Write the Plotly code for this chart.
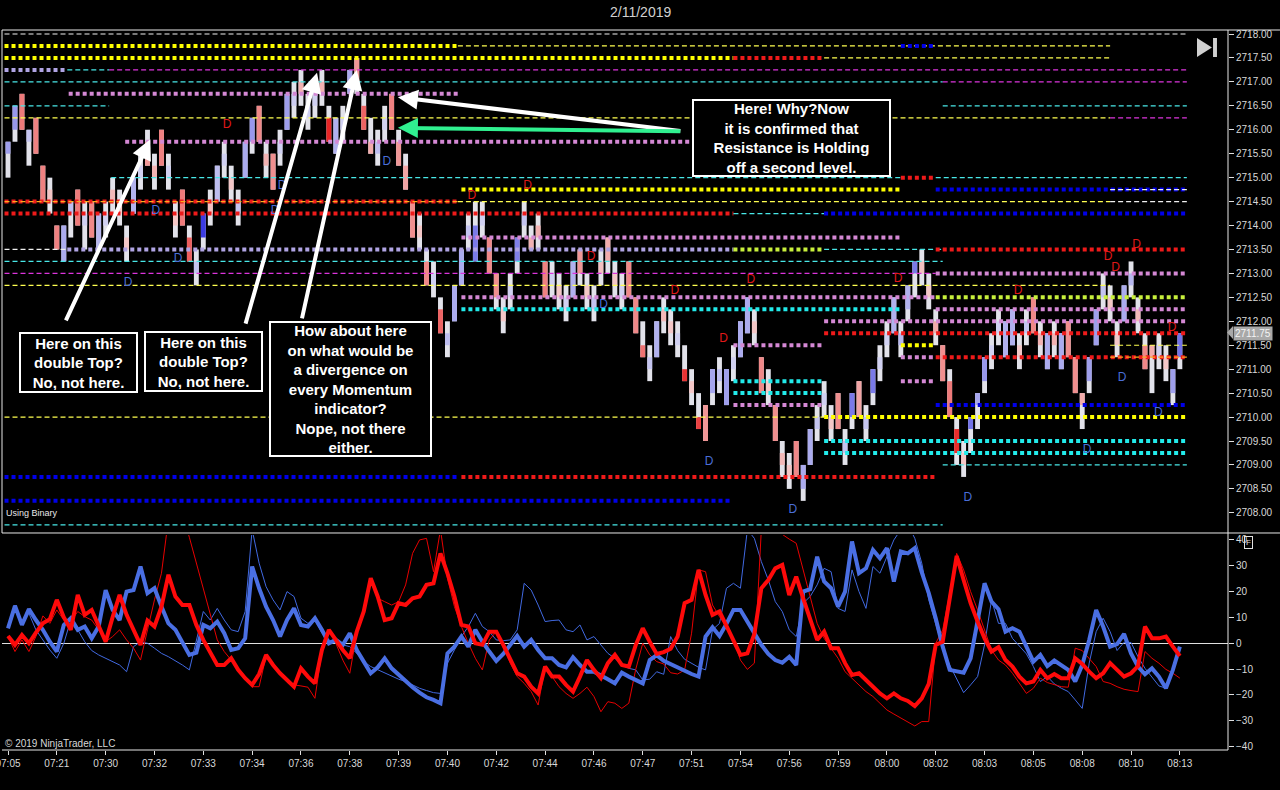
import plotly.graph_objects as go

# bar labels on the time axis (one every 7 bars)
times = ["07:05", "07:21", "07:30", "07:32", "07:33", "07:34", "07:36", "07:38", "07:39",
         "07:40", "07:42", "07:44", "07:46", "07:47", "07:51", "07:54", "07:56", "07:59",
         "08:00", "08:02", "08:03", "08:05", "08:08", "08:10", "08:13"]

opens = [2715.5, 2716.0, 2716.75, 2715.75, 2716.25, 2715.25, 2714.75, 2714.0, 2713.25, 2714.25,
         2714.75, 2714.0, 2714.5, 2713.5, 2714.0, 2714.75, 2714.5, 2713.75, 2714.25, 2715.0,
         2715.75, 2715.25, 2716.0, 2715.0, 2714.25, 2714.75, 2713.75, 2713.0, 2713.75, 2714.5,
         2714.5, 2715.25, 2715.0, 2714.25, 2715.0, 2715.75, 2716.5, 2715.5, 2715.5, 2715.5,
         2716.0, 2716.5, 2717.0, 2716.25, 2716.5, 2717.0, 2716.25, 2715.5, 2716.0, 2716.75,
         2717.5, 2716.5, 2715.75, 2715.5, 2716.0, 2716.75, 2715.75, 2715.25, 2714.5, 2714.0,
         2713.25, 2712.75, 2712.25, 2711.5, 2712.0, 2712.75, 2713.75, 2713.25, 2714.0, 2713.75,
         2713.0, 2712.25, 2712.5, 2713.25, 2714.0, 2713.75, 2714.0, 2713.25, 2712.75, 2712.75,
         2712.25, 2712.5, 2713.5, 2712.75, 2712.25, 2713.25, 2713.75, 2713.0, 2712.5, 2713.25,
         2712.5, 2711.5, 2711.0, 2711.25, 2712.25, 2712.0, 2711.5, 2711.0, 2710.75, 2710.0,
         2710.25, 2710.5, 2710.75, 2710.25, 2711.0, 2711.25, 2711.75, 2712.0, 2711.25, 2710.75,
         2710.25, 2709.25, 2709.0, 2709.5, 2708.5, 2709.0, 2709.75, 2710.25, 2710.0, 2710.5,
         2709.25, 2710.0, 2710.75, 2709.75, 2710.5, 2711.0, 2711.5, 2711.75, 2711.5, 2712.25,
         2713.0, 2713.25, 2712.75, 2712.0, 2711.5, 2710.75, 2709.75, 2709.25, 2709.75, 2710.25,
         2710.75, 2711.25, 2711.75, 2711.25, 2711.5, 2711.5, 2711.75, 2712.5, 2711.75, 2711.0,
         2711.75, 2711.0, 2712.0, 2711.25, 2710.5, 2710.75, 2711.5, 2712.5, 2712.5, 2711.75,
         2712.0, 2712.75, 2712.25, 2711.5, 2711.5, 2711.25, 2711.25, 2710.5, 2711.25]
highs = [2715.75, 2716.5, 2716.75, 2716.0, 2716.25, 2715.25, 2715.0, 2714.0, 2714.0, 2714.5,
         2714.75, 2714.5, 2714.5, 2714.25, 2714.5, 2715.0, 2714.75, 2714.0, 2715.0, 2715.5,
         2716.0, 2715.5, 2716.0, 2715.5, 2714.5, 2714.75, 2714.0, 2713.5, 2714.25, 2714.75,
         2715.25, 2715.75, 2715.25, 2714.75, 2715.75, 2716.25, 2716.5, 2715.75, 2715.5, 2716.0,
         2716.75, 2717.0, 2717.25, 2716.75, 2717.0, 2717.25, 2716.5, 2716.25, 2716.5, 2717.25,
         2717.5, 2716.75, 2716.25, 2716.0, 2716.5, 2716.75, 2716.0, 2715.5, 2714.5, 2714.25,
         2713.5, 2713.25, 2712.5, 2712.0, 2712.75, 2713.5, 2714.25, 2714.5, 2714.5, 2713.75,
         2713.0, 2712.5, 2713.0, 2713.75, 2714.5, 2714.0, 2714.25, 2713.25, 2713.25, 2713.0,
         2712.75, 2713.25, 2713.5, 2713.0, 2712.75, 2713.5, 2713.75, 2713.25, 2713.0, 2713.25,
         2712.5, 2712.0, 2711.5, 2712.0, 2712.5, 2712.25, 2712.0, 2711.5, 2711.0, 2710.5,
         2710.25, 2711.0, 2711.25, 2711.0, 2711.5, 2712.0, 2712.5, 2712.25, 2711.25, 2711.0,
         2710.25, 2709.5, 2709.25, 2709.5, 2709.0, 2709.75, 2710.25, 2710.75, 2710.25, 2710.5,
         2709.75, 2710.5, 2710.75, 2710.25, 2711.0, 2711.5, 2712.0, 2712.5, 2712.0, 2712.75,
         2713.25, 2713.5, 2713.0, 2712.25, 2711.5, 2711.0, 2710.0, 2709.5, 2710.0, 2710.5,
         2711.25, 2711.75, 2712.25, 2712.0, 2712.25, 2711.75, 2712.25, 2712.5, 2712.0, 2711.75,
         2712.0, 2711.75, 2712.0, 2711.25, 2710.5, 2711.25, 2712.25, 2713.0, 2712.75, 2712.0,
         2712.75, 2713.25, 2712.5, 2711.75, 2711.5, 2711.75, 2711.5, 2711.0, 2711.75]
lows = [2715.0, 2715.75, 2716.0, 2715.25, 2715.5, 2714.5, 2714.25, 2713.5, 2713.25, 2713.75,
        2714.0, 2713.5, 2713.75, 2713.5, 2713.75, 2714.25, 2714.0, 2713.25, 2714.25, 2714.75,
        2715.25, 2714.75, 2715.25, 2714.75, 2713.75, 2714.0, 2713.25, 2712.75, 2713.5, 2714.0,
        2714.5, 2715.0, 2714.5, 2714.0, 2715.0, 2715.5, 2715.75, 2715.0, 2714.75, 2715.25,
        2716.0, 2716.25, 2716.5, 2716.0, 2716.25, 2716.5, 2715.75, 2715.5, 2715.75, 2716.75,
        2716.75, 2716.0, 2715.5, 2715.25, 2715.75, 2716.0, 2715.25, 2714.75, 2713.75, 2713.5,
        2712.75, 2712.5, 2711.75, 2711.25, 2712.0, 2712.75, 2713.5, 2713.25, 2713.75, 2713.0,
        2712.25, 2711.75, 2712.25, 2713.0, 2713.75, 2713.5, 2713.5, 2712.5, 2712.5, 2712.25,
        2712.0, 2712.5, 2712.75, 2712.25, 2712.0, 2712.75, 2713.0, 2712.5, 2712.25, 2712.5,
        2711.75, 2711.25, 2710.75, 2711.25, 2711.75, 2711.5, 2711.25, 2710.75, 2710.25, 2709.75,
        2709.5, 2710.25, 2710.5, 2710.25, 2710.75, 2711.25, 2711.75, 2711.5, 2710.5, 2710.25,
        2709.5, 2708.75, 2708.5, 2708.75, 2708.25, 2709.0, 2709.5, 2710.0, 2709.5, 2709.75,
        2709.0, 2709.75, 2710.0, 2709.5, 2710.25, 2710.75, 2711.25, 2711.75, 2711.25, 2712.0,
        2712.5, 2712.75, 2712.25, 2711.5, 2710.75, 2710.0, 2709.0, 2708.75, 2709.25, 2709.75,
        2710.5, 2711.0, 2711.5, 2711.25, 2711.5, 2711.0, 2711.5, 2711.75, 2711.25, 2711.0,
        2711.25, 2711.0, 2711.25, 2710.5, 2709.75, 2710.5, 2711.5, 2712.25, 2712.0, 2711.25,
        2712.0, 2712.5, 2711.75, 2711.0, 2710.5, 2711.0, 2710.75, 2710.25, 2711.0]
closes = [2715.75, 2716.5, 2716.0, 2716.0, 2715.5, 2714.5, 2714.5, 2713.5, 2714.0, 2714.5,
          2714.0, 2714.25, 2713.75, 2714.25, 2714.25, 2714.5, 2714.25, 2713.5, 2715.0, 2715.25,
          2715.25, 2715.0, 2715.25, 2715.25, 2714.0, 2714.0, 2713.25, 2713.25, 2714.25, 2714.25,
          2715.25, 2715.5, 2714.75, 2714.5, 2715.75, 2716.25, 2715.75, 2715.25, 2714.75, 2715.75,
          2716.75, 2716.75, 2716.75, 2716.5, 2716.75, 2716.75, 2715.75, 2716.25, 2716.25, 2717.25,
          2717.0, 2716.0, 2715.5, 2715.75, 2716.25, 2716.0, 2715.25, 2714.75, 2713.75, 2713.75,
          2712.75, 2713.0, 2711.75, 2711.75, 2712.75, 2713.5, 2714.0, 2714.0, 2714.25, 2713.0,
          2712.5, 2712.0, 2712.75, 2713.75, 2714.25, 2713.5, 2713.75, 2712.5, 2713.0, 2712.5,
          2712.5, 2713.25, 2713.0, 2712.5, 2712.5, 2713.0, 2713.25, 2712.75, 2712.75, 2712.5,
          2711.75, 2711.25, 2711.25, 2712.0, 2712.0, 2711.75, 2711.75, 2710.75, 2710.5, 2709.75,
          2709.5, 2711.0, 2711.0, 2711.0, 2711.25, 2712.0, 2712.5, 2711.75, 2710.5, 2710.5,
          2709.5, 2709.0, 2708.75, 2708.75, 2709.0, 2709.75, 2710.0, 2710.5, 2709.75, 2709.75,
          2709.5, 2710.5, 2710.0, 2710.0, 2711.0, 2711.25, 2711.75, 2712.5, 2711.75, 2712.75,
          2713.25, 2713.0, 2712.5, 2711.75, 2710.75, 2710.0, 2709.25, 2709.0, 2710.0, 2710.5,
          2711.25, 2711.5, 2712.0, 2712.0, 2712.25, 2711.25, 2712.0, 2711.75, 2711.5, 2711.75,
          2711.5, 2711.75, 2711.25, 2710.5, 2710.25, 2711.25, 2712.25, 2712.75, 2712.25, 2711.5,
          2712.75, 2713.0, 2712.0, 2711.0, 2711.25, 2711.5, 2711.0, 2711.0, 2711.75]
# order flow delta per bar, drives the body shade
deltas = [90, 100, -120, 30, -110, -110, -15, -110, 70, 40,
          -120, 10, -100, 50, 10, -30, -10, -10, 60, 10,
          -80, -40, -110, 10, -10, -120, -160, 30, 250, -20,
          40, 10, -10, 30, 70, 100, -100, -40, -90, 10,
          90, 15, -40, 10, 10, -40, -240, 60, 10, 70,
          -80, -150, -50, 40, 10, -110, -80, -60, -90, -10,
          -100, 10, -150, 40, 70, 70, 30, 150, 10, -100,
          -90, -10, 10, 140, 30, -40, -40, -110, 10, -10,
          10, 60, -80, -10, 30, -20, -50, -10, 10, -100,
          -100, -130, 30, 60, -30, -10, 10, -220, -10, -200,
          -80, 80, 40, 90, 10, 70, 70, -10, -100, -10,
          -90, -30, -10, -100, 70, 70, 30, 10, -10, -90,
          30, 150, -60, 30, 150, 10, 10, 60, 50, 60,
          150, -20, -10, -50, -90, -120, -230, -10, 160, 80,
          100, 10, 10, 60, 60, -10, 30, -100, -40, 70,
          -40, 70, -90, -90, -50, 90, 90, 30, -10, -10,
          70, 50, -30, -100, -50, 10, -10, 90, 160]

# horizontal levels: price, first bar, last bar, kind
level_price = [2718.00, 2717.75, 2717.75, 2717.75, 2717.50, 2717.50, 2717.50, 2717.25, 2717.25, 2717.25,
               2717.00, 2717.00, 2716.75, 2716.50, 2716.50, 2716.25, 2716.25, 2715.75, 2715.00, 2715.00,
               2715.00, 2714.75, 2714.75, 2714.75, 2714.50, 2714.50, 2714.50, 2714.50, 2714.25, 2714.25,
               2714.25, 2713.75, 2713.50, 2713.50, 2713.50, 2713.50, 2713.50, 2713.25, 2713.00, 2713.00,
               2712.75, 2712.50, 2712.50, 2712.25, 2712.25, 2712.00, 2711.75, 2711.50, 2711.50, 2711.50,
               2711.25, 2711.25, 2711.25, 2710.75, 2710.75, 2710.50, 2710.25, 2710.25, 2710.00, 2710.00,
               2709.50, 2709.25, 2709.00, 2708.75, 2708.75, 2708.25, 2707.75]
level_from = [-0.5, -0.5, 64.5, 128, -0.5, 104, 117, -0.5, 8.5, 14.5,
              -0.5, 134, 8.7, -0.5, 134, -0.5, 158, 16.8, 14.8, 128,
              133, 65, 133, 158, -0.5, -0.5, 64.5, 158, -0.5, 104,
              117, 65, -0.5, 8.5, 104, 117, 133, -0.5, -0.5, 133,
              -0.5, 65, 133, 65, 133, 117, 117, 104, 128, 158,
              128, 133, 158, 104, 128, 104, 104, 133, -0.5, 117,
              117, 117, 134, -0.5, 65, -0.5, -0.5]
level_to = [169, 64.5, 158, 133, 104, 117, 158, 8.5, 14.5, 169,
            134, 169, 64.5, 14.5, 169, 158, 169, 103.5, 128, 133,
            169, 128, 169, 169, 64.5, 64.5, 158, 169, 104, 117,
            169, 128, 8.5, 104, 117, 134, 169, 134, 133, 169,
            158, 133, 169, 128, 169, 169, 169, 117, 133, 169,
            133, 169, 169, 117, 133, 117, 117, 169, 117, 169,
            169, 169, 169, 64.5, 133, 103.5, 134]
level_kind = ["thin_white", "thick_yellow", "thin_yellow", "thick_blue", "thick_yellow", "thick_red",
              "thin_yellow", "thick_lavender", "thin_cyan", "thin_magenta",
              "thin_cyan", "thin_magenta", "thick_orchid", "thin_cyan", "thin_cyan", "thin_yellow",
              "thin_magenta", "thick_orchid", "thin_cyan", "thick_red",
              "thin_cyan", "thick_yellow", "thick_blue", "thin_white", "thick_red", "thin_orange",
              "thin_yellow", "thin_white", "thick_red", "thin_cyan",
              "thick_blue", "thick_orchid", "thin_white", "thick_lavender", "thick_lime", "thin_cyan",
              "thick_red", "thin_cyan", "thin_magenta", "thick_orchid",
              "thin_yellow", "thick_orchid", "thick_lime", "thick_cyan", "thick_orchid", "thick_orchid",
              "thick_red", "thick_orchid", "thick_yellow", "thin_yellow",
              "thick_orchid", "thick_red", "thin_orange", "thick_cyan", "thick_orchid", "thick_cyan",
              "thick_orchid", "thick_blue", "thin_yellow", "thick_yellow",
              "thick_cyan", "thick_cyan", "thin_cyan", "thick_blue", "thick_red", "thick_blue", "thin_cyan"]

# divergence signals
red_d_bar = [31.4, 66.5, 74.5, 83.6, 95.6, 102.6, 106.5, 127.6, 144.8, 157.7, 158.8, 161.8, 166.9]
red_d_price = [2716.10, 2714.62, 2714.83, 2713.34, 2712.63, 2711.63, 2712.86, 2712.89, 2712.63,
               2713.34, 2713.11, 2713.59, 2711.86]
blue_d_bar = [54.3, 21.2, 39.3, 38.3, 24.4, 17.2, 85.4, 100.5, 112.5, 137.6, 154.7, 159.7, 164.9]
blue_d_price = [2715.33, 2714.30, 2714.83, 2714.30, 2713.30, 2712.80, 2712.34, 2709.06, 2708.06,
                2708.31, 2709.32, 2710.82, 2710.09]

# oscillator panel
blue_slow = [5.8, 14.5, 7.1, 13.2, 9.0, 5.2, 0.6, -3.2, 7.1, 9.7,
             5.2, 6.5, 1.9, 6.5, 20.6, 12.9, 9.0, 20.0, 20.6, 29.7,
             19.4, 21.3, 14.2, 7.7, 5.2, 0, -4.5, -3.6, 7.1, 5.8,
             8.4, 3.9, -2.6, -1.9, 1.9, 29.7, 21.3, 14.2, 9.0, 2.6,
             9.0, 13.5, 7.1, 6.5, 9.7, 5.2, 0, 1.3, -0.6, 3.9,
             -2.6, -7.1, -11.6, -9.3, -5.8, -9.7, -12.3, -14.8, -17.0, -19.1,
             -20.9, -21.9, -23.2, -3.9, -1.3, 2.6, -1.3, 5.2, 0.6, -3.2,
             -6.8, -4.1, -0.6, 2.8, -1.3, 1.3, -2.6, -5.8, -5.8, -8.4,
             -9.3, -5.4, -8.4, -11.0, -11.0, -12.3, -13.9, -15.5, -11.4, -12.9, -14.2,
             -15.5, -6.5, -4.6, -6.8, -8.1, -9.7, -11.0, -11.9, -12.9, 2.6,
             6.2, 2.8, 7.5, 12.9, 12.9, 8.4, 3.6, -0.6, -4.1, -6.5,
             -7.5, -5.2, -8.4, 20.0, 20.9, 33.5, 23.9, 21.3, 14.2, 20.0,
             39.4, 27.1, 29.0, 36.1, 32.9, 36.8, 23.9, 35.5, 34.8, 36.8,
             27.4, 19.4, 9.7, -1.3, -10.3, -10.8, -11.4, -5.8, 9.7, 23.2,
             16.1, 13.2, 4.5, 5.8, 4.5, -1.3, -7.1, -4.5, -8.8, -6.7,
             -8.4, -10.3, -14.8, -8.4, 1.3, 12.9, 6.5, -1.3, -0.3, 3.6,
             -3.9, -9.0, -12.0, -9.7, -12.9, -17.4, -10.3, -1.3]
red_slow = [2.8, -0.6, 3.2, 0, 4.1, 7.7, 9.3, 16.8, 10.1, 5.2,
            18.7, 11.0, 12.9, 7.1, 0.6, 10.1, 18.7, 11.0, 5.2, -0.6,
            8.8, 6.5, 14.2, 26.5, 18.1, 14.8, 14.8, 7.1, 1.3, -3.9,
            -8.4, -8.4, -5.8, -10.3, -13.5, -16.1, -11.9, -4.5, -8.4, -11.6,
            -14.2, -16.8, -9.7, -12.9, -15.5, -2.6, 5.2, 1.3, -2.6, -5.8,
            4.5, 12.3, 25.2, 18.1, 9.0, 9.7, 15.5, 14.8, 17.4, 18.1,
            22.6, 23.2, 34.8, 27.1, 18.1, 7.1, 6.5, 0, -0.6, 4.5,
            4.5, -0.6, -6.5, -11.6, -12.9, -16.8, -19.4, -9.0, -12.9, -12.9,
            -16.1, -18.7, -12.9, -6.5, -10.3, -13.5, -7.7, -4.5, -8.4, -9.0, -0.6,
            5.8, 0.6, -4.1, -3.4, -2.1, 2.6, 15.5, 16.8, 28.4, 18.7,
            11.0, 12.3, 6.5, 0.6, -4.5, -3.9, 3.6, 21.3, 24.5, 29.0,
            30.3, 18.7, 25.8, 17.4, 9.7, 1.3, 4.5, -1.9, -1.9, -7.7,
            -12.3, -11.6, -14.2, -16.8, -19.4, -21.3, -19.4, -21.3, -22.3, -24.3,
            -21.3, -15.7, -0.6, 0.6, 16.8, 33.8, 24.5, 15.5, 8.4, 1.9,
            -3.2, -1.5, -6.5, -9.0, -12.9, -15.5, -14.8, -10.3, -13.5, -11.9,
            -13.5, -13.5, -5.8, -8.0, -11.0, -13.5, -11.6, -7.7, -10.3, -12.9,
            -11.6, -8.8, 6.5, 1.9, 1.9, 2.6, -1.3, -4.9]
blue_fast = [6.5, 14.8, 8.4, 11.6, 5.2, 1.3, -2.6, -5.8, 0, 9.0,
             5.2, 0.6, -2.8, -4.5, -5.8, -7.1, -8.4, -11.0, -1.3, 0.6,
             0, -1.9, -3.9, -5.2, -6.7, -8.4, -10.3, 1.3, 12.3, 9.0,
             13.5, 9.0, 5.2, 4.5, 12.3, 44, 31.0, 21.9, 16.8, 12.9,
             20.0, 18.1, 9.7, 7.7, 9.0, 3.9, 1.3, 0, -0.6, -1.3,
             -3.9, -7.1, -9.0, -10.3, -11.6, -12.9, -13.9, -14.8, -16.1, -17.4,
             -18.3, -19.1, -19.4, -7.7, -2.6, 2.6, 6.5, 11.6, 6.5, 4.5,
             1.3, 1.0, 1.3, 5.2, 23.2, 20.6, 14.8, 8.4, 8.8, 9.0,
             5.2, 4.5, 7.1, 1.3, 2.6, -0.6, -3.9, -5.8, -8.4, -9.7, -10.3,
             -14.2, -13.9, -11.0, -12.0, 2.6, -2.8, -6.2, -7.7, -9.3, -10.3,
             5.2, 7.7, 21.3, 23.2, 21.3, 44, 40.6, 31.6, 24.5, 16.1,
             12.3, 5.2, 2.6, 15.5, 18.1, 22.6, 29.0, 27.7, 13.5, 12.3,
             28.4, 20.0, 13.5, 29.7, 27.1, 33.5, 40.0, 44, 46, 40.6,
             31.0, 16.8, 7.7, -1.9, -8.4, -13.5, -19.1, -16.1, -12.9, -0.6,
             16.8, 7.7, 7.7, 1.9, -1.3, -4.1, -9.0, -14.8, -12.9, -15.7,
             -17.4, -18.7, -21.9, -25.2, -7.7, 4.5, 9.7, 4.5, -2.8, 0.4,
             0.3, -5.2, -9.7, -12.9, -16.5, -17.4, -10.3, -2.6]
red_fast = [2.6, -3.2, 1.3, -3.2, 2.6, 10.6, 7.7, 12.9, 9.0, 8.4,
            12.3, 10.3, 9.0, 5.2, 0.6, 2.6, 5.2, 1.3, -1.9, -6.5,
            5.2, 16.8, 27.1, 48, 55, 50, 41, 31.0, 20.6, 11.0,
            1.3, -3.2, -6.5, -10.3, -13.5, -16.8, -16.8, -4.9, -7.7, -11.6,
            -14.2, -16.1, -16.5, -17.0, -21.3, -3.2, 5.2, 0, -6.5, -11.6,
            3.9, 12.9, 24.5, 17.4, 16.1, 14.8, 16.1, 22.6, 34.8, 40.0,
            40.6, 27.7, 44, 25.2, 14.2, 6.5, 0, -5.8, -10.3, 1.3,
            4.5, -1.9, -7.7, -12.9, -15.5, -18.7, -23.9, -9.0, -12.9, -16.8,
            -19.4, -21.3, -19.4, -17.0, -20.6, -26.5, -22.6, -23.2, -25.2, -23.2, -10.0,
            0, -4.5, -7.1, -8.0, -11.4, -11.9, -10.3, 3.9, 28.4, 27.7,
            14.8, 10.3, 6.5, 1.9, -6.5, -10.1, -7.7, 44, 45, 44,
            42, 40.3, 38.7, 28.4, 17.4, 7.7, 1.9, -1.9, -5.8, -11.0,
            -13.5, -16.1, -18.7, -20.6, -23.2, -25.8, -27.4, -29.0, -30.3, -32.0,
            -30.3, -30.3, 0, 5.2, 19.4, 34.8, 28.4, 20.0, 12.9, 5.2,
            -2.6, -6.5, -8.4, -11.6, -15.5, -19.4, -17.4, -13.5, -15.2, -16.1,
            -16.8, -17.0, -1.9, -2.8, -5.8, -9.0, -14.8, -15.5, -16.8, -17.8,
            -18.3, -18.7, -3.2, -5.8, -7.7, -10.1, -11.6, -13.5]

LEVEL_STYLE = {
    "thin_white": ("#f0f0f0", 1.2, "5px,3px"),
    "thin_yellow": ("#ffff50", 1.2, "5px,3px"),
    "thin_cyan": ("#48e8e8", 1.2, "5px,3px"),
    "thin_magenta": ("#dc34dc", 1.2, "5px,3px"),
    "thin_orange": ("#ffa820", 1.2, "5px,3px"),
    "thick_yellow": ("#ffff00", 4, "4px,3px"),
    "thick_orchid": ("#d488d4", 4, "4px,3px"),
    "thick_lavender": ("#b0a4e4", 4, "4px,3px"),
    "thick_red": ("#ee1a1a", 4, "4px,3px"),
    "thick_blue": ("#0000e8", 4, "4px,3px"),
    "thick_cyan": ("#22eaea", 4, "4px,3px"),
    "thick_lime": ("#c8f03c", 4, "4px,3px"),
}


def body_color(d):
    t = min(abs(d) / 250.0, 1.0)
    if d >= 0:
        lo, hi = (214, 214, 242), (60, 60, 226)
    else:
        lo, hi = (244, 206, 206), (232, 30, 30)
    r, g, b = [round(lo[k] + (hi[k] - lo[k]) * t) for k in range(3)]
    return 'rgb(%d,%d,%d)' % (r, g, b)


bars = list(range(len(opens)))
fig = go.Figure()

# candles: full range in pale grey, body shaded by delta
fig.add_trace(go.Bar(x=bars, base=lows, y=[h - l for h, l in zip(highs, lows)], width=0.7,
                     marker=dict(color='rgb(226,226,234)', line=dict(width=0)), hoverinfo='skip'))
fig.add_trace(go.Bar(x=bars, base=[min(o, c) for o, c in zip(opens, closes)],
                     y=[abs(c - o) for o, c in zip(opens, closes)], width=0.7,
                     marker=dict(color=[body_color(d) for d in deltas], line=dict(width=0)),
                     hoverinfo='skip'))

for p, a, b, k in zip(level_price, level_from, level_to, level_kind):
    color, w, dash = LEVEL_STYLE[k]
    fig.add_trace(go.Scatter(x=[a, b], y=[p, p], mode='lines', hoverinfo='skip',
                             line=dict(color=color, width=w, dash=dash)))

fig.add_trace(go.Scatter(x=red_d_bar, y=red_d_price, mode='text', text=['D'] * len(red_d_bar),
                         textfont=dict(color='#e01818', size=12, family='Liberation Sans, Arial'),
                         hoverinfo='skip'))
fig.add_trace(go.Scatter(x=blue_d_bar, y=blue_d_price, mode='text', text=['D'] * len(blue_d_bar),
                         textfont=dict(color='#4a6ed8', size=12, family='Liberation Sans, Arial'),
                         hoverinfo='skip'))

# oscillators
fig.add_trace(go.Scatter(x=bars, y=blue_fast, yaxis='y2', mode='lines',
                         line=dict(color='#4169e1', width=1), hoverinfo='skip'))
fig.add_trace(go.Scatter(x=bars, y=red_fast, yaxis='y2', mode='lines',
                         line=dict(color='#e80000', width=1), hoverinfo='skip'))
fig.add_trace(go.Scatter(x=bars, y=blue_slow, yaxis='y2', mode='lines',
                         line=dict(color='#4a6fe3', width=4), hoverinfo='skip'))
fig.add_trace(go.Scatter(x=bars, y=red_slow, yaxis='y2', mode='lines',
                         line=dict(color='#ff0a0a', width=4), hoverinfo='skip'))

box_font = dict(family='Liberation Sans, Arial', size=15, color='white')
boxes = [
    (10.1, 2711.14, "Here on this<br>double Top?<br>No, not here.", 113, 55),
    (28.0, 2711.17, "Here on this<br>double Top?<br>No, not here.", 113, 55),
    (49.1, 2710.59, "How about here<br>on what would be<br>a divergence on<br>every Momentum"
                    "<br>indicator?<br>Nope, not there<br>either.", 157, 130),
    (112.3, 2715.83, "Here! Why?Now<br>it is confirmed that<br>Resistance is Holding"
                     "<br>off a second level.", 193, 72),
]
annotations = []
for bx, by, txt, w, h in boxes:
    annotations.append(dict(x=bx, y=by, xref='x', yref='y', text='<b>' + txt + '</b>',
                            showarrow=False, font=box_font, align='center', width=w, height=h,
                            bordercolor='white', borderwidth=2, borderpad=1, bgcolor='black'))

arrows = [
    (20.4, 2715.80, 8.2, 2711.99, 'white'),
    (44.3, 2717.19, 34.0, 2711.92, 'white'),
    (50.0, 2717.25, 42.1, 2712.03, 'white'),
    (55.9, 2716.68, 96.6, 2715.97, 'white'),
    (55.9, 2716.04, 96.6, 2715.97, '#30f090'),
]
for hx, hy, tx, ty, col in arrows:
    annotations.append(dict(x=hx, y=hy, ax=tx, ay=ty, xref='x', yref='y', axref='x', ayref='y',
                            text='', showarrow=True, arrowhead=2, arrowsize=1, arrowwidth=4,
                            arrowcolor=col, standoff=0))

annotations += [
    dict(x=0.5204, y=1.025, xref='paper', yref='paper', text='2/11/2019', showarrow=False,
         font=dict(size=14, color='#d0d0d0'), yanchor='middle'),
    dict(x=0.0016, y=0.329, xref='paper', yref='paper', text='Using Binary', showarrow=False,
         font=dict(size=9, color='#e8e8e8'), xanchor='left', yanchor='middle'),
    dict(x=0.0008, y=0.0097, xref='paper', yref='paper', text='© 2019 NinjaTrader, LLC',
         showarrow=False, font=dict(size=10, color='#d8d8d8'), xanchor='left', yanchor='middle'),
    dict(x=1.0041, y=closes[-1], xref='paper', yref='y', text='%.2f' % closes[-1], showarrow=False,
         font=dict(size=10, color='#f4f4f4'), xanchor='left', bgcolor='#a8a8a8', borderpad=1),
    dict(x=1.0204, y=0.279, xref='paper', yref='paper', text='F', showarrow=False,
         font=dict(size=8, color='#e0e0e0'), bordercolor='#e0e0e0', borderwidth=1, borderpad=1),
]

frame = dict(color='#e8e8e8', width=1)
shapes = [
    dict(type='line', xref='paper', yref='paper', x0=0, x1=1.0424, y0=1, y1=1, line=frame),
    dict(type='line', xref='paper', yref='paper', x0=0, x1=1.0424, y0=0.3014, y1=0.3014, line=frame),
    dict(type='line', xref='paper', yref='paper', x0=0, x1=1, y0=0, y1=0, line=frame),
    dict(type='line', xref='paper', yref='paper', x0=1, x1=1, y0=0, y1=1, line=frame),
    dict(type='line', xref='paper', yref='paper', x0=0, x1=0, y0=0.3014, y1=1, line=frame),
    dict(type='path', xref='paper', yref='paper', path='M 0.9747 0.9889 L 0.9747 0.9625 L 0.9869 0.9757 Z',
         fillcolor='#d0d0d0', line=dict(width=0)),
    dict(type='rect', xref='paper', yref='paper', x0=0.9878, x1=0.9910, y0=0.9625, y1=0.9889,
         fillcolor='#d0d0d0', line=dict(width=0)),
    dict(type='path', xref='paper', yref='paper', path='M 0.9992 0.5799 L 1.0041 0.5889 L 1.0041 0.5708 Z',
         fillcolor='#a8a8a8', line=dict(width=0)),
]

fig.update_layout(
    width=1280, height=790,
    margin=dict(l=2, r=52, t=30, b=40, autoexpand=False),
    paper_bgcolor='black', plot_bgcolor='black',
    showlegend=False, barmode='overlay', hovermode=False,
    font=dict(family='Liberation Sans, Arial', size=10, color='#d8d8d8'),
    xaxis=dict(domain=[0, 1], anchor='y2', range=[-0.86, 174.9],
               tickvals=bars[::7], ticktext=times, showgrid=False, zeroline=False,
               ticks='outside', ticklen=4, tickcolor='#e0e0e0', ticklabeloverflow='allow',
               tickfont=dict(size=10, color='#d8d8d8')),
    yaxis=dict(domain=[0.3028, 1], anchor='x', side='right', range=[2707.60, 2718.0835],
               tickvals=[2708 + 0.5 * k for k in range(21)], tickformat='.2f', showgrid=False,
               zeroline=False, ticks='outside', ticklen=5, tickcolor='#e0e0e0',
               tickfont=dict(size=10, color='#d8d8d8')),
    yaxis2=dict(domain=[0, 0.2986], anchor='x', side='right', range=[-41.3, 41.9],
                tickvals=list(range(-40, 41, 10)), showgrid=False, zeroline=True,
                zerolinecolor='#e0e0e0', zerolinewidth=1, ticks='outside', ticklen=5,
                tickcolor='#e0e0e0', tickfont=dict(size=10, color='#d8d8d8')),
    annotations=annotations,
    shapes=shapes,
)

# drop the browser's default page margin so the figure sits at the window corner
fig.write_html("out.html", config={'displayModeBar': False},
               post_script="document.body.style.margin='0';document.body.style.background='black';")
